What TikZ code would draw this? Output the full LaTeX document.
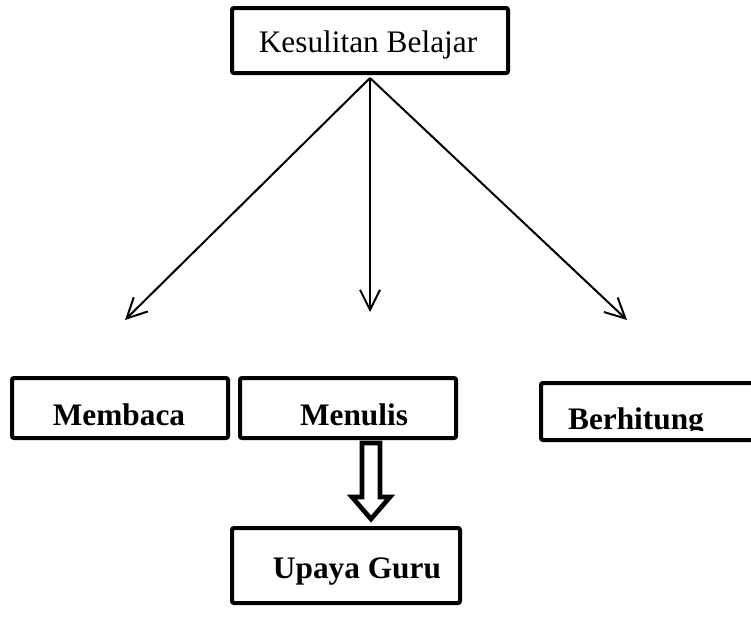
\documentclass[tikz,border=0pt]{standalone}
\usepackage{fontspec}
\setmainfont{Liberation Serif}
\usetikzlibrary{arrows.meta}
\tikzset{
  boxshape/.style={draw, line width=3pt, rounded corners=1.5pt, inner sep=0pt},
  lbl/.style={anchor=base, inner sep=0pt, font=\fontsize{23.5pt}{28pt}\selectfont},
  blbl/.style={lbl, font=\fontsize{23.5pt}{28pt}\selectfont\bfseries},
  conn/.style={line width=1.5pt, -{Straight Barb[length=15pt,width=15pt,line width=1.5pt]}},
  blockarrow/.style={draw, line width=3.5pt, line join=miter, fill=white}
}
\begin{document}
\begin{tikzpicture}[x=0.75pt,y=-0.75pt]
\useasboundingbox (0,0) rectangle (751,632);
% top box
\node[boxshape, minimum width=207pt, minimum height=48.75pt] (top) at (370,40.5) {};
\node[lbl] (toplbl) at (368,52) {Kesulitan Belajar};
% second row boxes
\node[boxshape, minimum width=162pt, minimum height=45pt] (membaca) at (120,408) {};
\node[blbl] (membacalbl) at (119,425) {Membaca};
\node[boxshape, minimum width=162pt, minimum height=45pt] (menulis) at (348,408) {};
\node[blbl] (menulislbl) at (354,425) {Menulis};
\node[boxshape, minimum width=171.75pt, minimum height=42.75pt] (berhitung) at (655.5,411.5) {};
\begin{scope}
\clip (530,380) rectangle (780,430);
\node[blbl] (berhitunglbl) at (636,429) {Berhitung};
\end{scope}
% bottom box
\node[boxshape, minimum width=171pt, minimum height=56.25pt] (upaya) at (346,565.5) {};
\node[blbl] (upayalbl) at (357,578) {Upaya Guru};
% connectors
\coordinate (apex) at (370,78);
\coordinate (tipL) at (125,320);
\coordinate (tipM) at (370,312);
\coordinate (tipR) at (627,320);
\draw[conn] (apex) -- (tipL);
\draw[conn] (apex) -- (tipM);
\draw[conn] (apex) -- (tipR);
% block arrow from Menulis to Upaya Guru
\draw[blockarrow] (362,443) -- (380,443) -- (380,497) -- (390,497)
  -- (371,519) -- (352,497) -- (362,497) -- cycle;
\end{tikzpicture}
\end{document}
